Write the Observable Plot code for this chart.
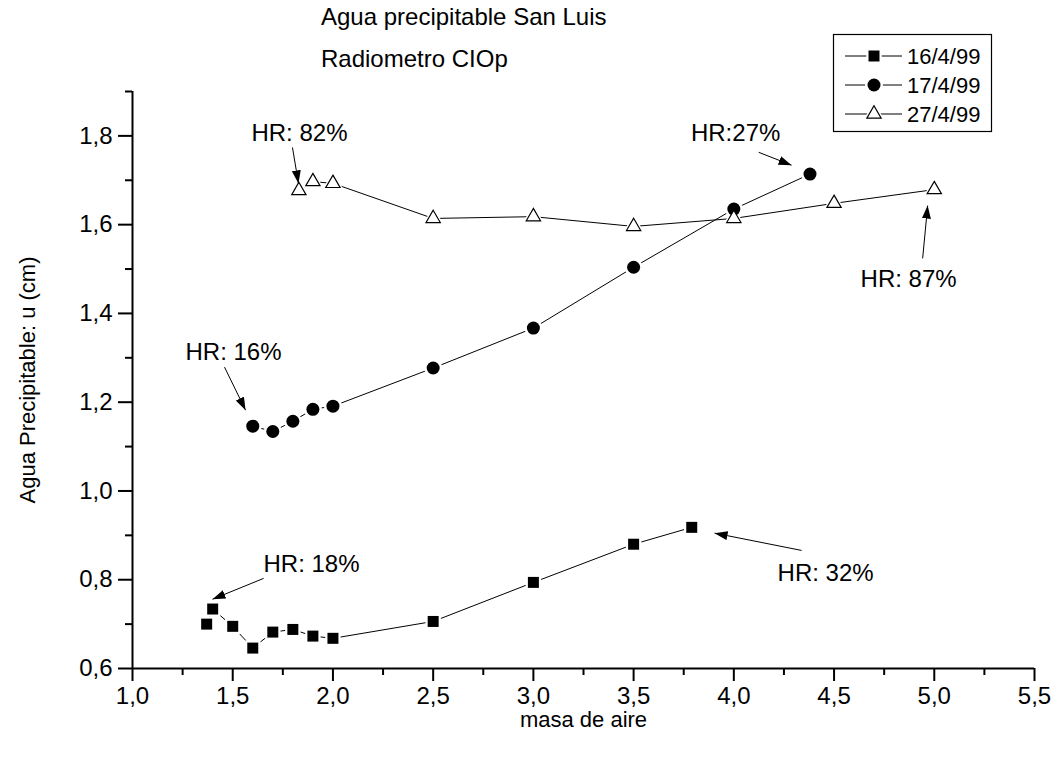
<!DOCTYPE html>
<html><head><meta charset="utf-8">
<script src="https://cdn.jsdelivr.net/npm/d3@7"></script>
<script src="https://cdn.jsdelivr.net/npm/@observablehq/plot@0.6"></script>
<style>
body{margin:0;background:#fff;}
#wrap{position:relative;width:1057px;height:757px;overflow:hidden;}
.ttl{position:absolute;left:321px;font:24px "Liberation Sans",Arial,sans-serif;color:#000;white-space:nowrap;line-height:24px;}
</style></head>
<body><div id="wrap"><div id="chart"></div>
<div class="ttl" style="top:5px">Agua precipitable San Luis</div>
<div class="ttl" style="top:47px">Radiometro CIOp</div>
</div>
<script>
// ---- data ----
const series = ["16/4/99", "17/4/99", "27/4/99"];
const masa16 = [1.37, 1.40, 1.50, 1.60, 1.70, 1.80, 1.90, 2.00, 2.50, 3.00, 3.50, 3.79];
const agua16 = [0.700, 0.734, 0.695, 0.646, 0.682, 0.688, 0.673, 0.668, 0.706, 0.794, 0.880, 0.918];
const masa17 = [1.60, 1.70, 1.80, 1.90, 2.00, 2.50, 3.00, 3.50, 4.00, 4.38];
const agua17 = [1.146, 1.134, 1.157, 1.184, 1.191, 1.277, 1.367, 1.504, 1.635, 1.714];
const masa27 = [1.83, 1.90, 2.00, 2.50, 3.00, 3.50, 4.00, 4.50, 5.00];
const agua27 = [1.677, 1.697, 1.693, 1.614, 1.618, 1.596, 1.614, 1.648, 1.679];
const xTicksMajor = [1.0, 1.5, 2.0, 2.5, 3.0, 3.5, 4.0, 4.5, 5.0, 5.5];
const xTicksMinor = [1.25, 1.75, 2.25, 2.75, 3.25, 3.75, 4.25, 4.75, 5.25];
const yTicksMajor = [0.6, 0.8, 1.0, 1.2, 1.4, 1.6, 1.8];
const yTicksMinor = [0.7, 0.9, 1.1, 1.3, 1.5, 1.7, 1.9];
// annotations (data coordinates)
const notaTexto = ["HR: 82%", "HR:27%", "HR: 87%", "HR: 16%", "HR: 18%", "HR: 32%"];
const notaX = [1.833, 4.009, 4.872, 1.504, 1.893, 4.458];
const notaY = [1.806, 1.806, 1.477, 1.313, 0.834, 0.814];
const flechaX1 = [1.798, 4.124, 4.942, 1.459, 1.654, 4.338];
const flechaY1 = [1.774, 1.763, 1.524, 1.279, 0.803, 0.866];
const flechaX2 = [1.828, 4.288, 4.967, 1.564, 1.399, 3.904];
const flechaY2 = [1.693, 1.734, 1.643, 1.182, 0.756, 0.905];

const symbols = ["square", "circle", "triangle"];
const rows = [];
[[masa16, agua16], [masa17, agua17], [masa27, agua27]].forEach(([xs, ys], i) => {
  xs.forEach((x, j) => rows.push({serie: series[i], x, y: ys[j]}));
});
const notas = notaTexto.map((t, i) => ({t, x: notaX[i], y: notaY[i]}));
const flechas = notaTexto.map((t, i) => ({x1: flechaX1[i], y1: flechaY1[i], x2: flechaX2[i], y2: flechaY2[i]}));
const fmt = d => d.toFixed(1).replace(".", ",");
const FONT = '"Liberation Sans", Arial, sans-serif';
const bySerie = s => rows.filter(d => d.serie === s);
const R = {square: 6.2, circle: 6.5, triangle: 5.3};

const marks = [
  Plot.axisX(xTicksMajor, {tickSize: 13, text: null, tickFormat: () => "", strokeWidth: 2, label: null}),
  Plot.axisX(xTicksMinor, {tickSize: 7, text: null, tickFormat: () => "", strokeWidth: 2, label: null}),
  Plot.axisY(yTicksMajor, {tickSize: 14, text: null, tickFormat: () => "", strokeWidth: 2, label: null}),
  Plot.axisY(yTicksMinor, {tickSize: 7, text: null, tickFormat: () => "", strokeWidth: 2, label: null}),
  Plot.text(xTicksMajor, {x: d => d, frameAnchor: "bottom", dy: 28, lineAnchor: "middle", textAnchor: "middle", text: fmt, fontSize: 24}),
  Plot.text(yTicksMajor, {y: d => d, frameAnchor: "left", dx: -20, lineAnchor: "middle", textAnchor: "end", text: fmt, fontSize: 24}),
  Plot.text(["masa de aire"], {frameAnchor: "bottom", dy: 51, lineAnchor: "middle", textAnchor: "middle", text: d => d, fontSize: 22}),
  Plot.text(["Agua Precipitable: u (cm)"], {frameAnchor: "left", dx: -105, rotate: -90, lineAnchor: "middle", textAnchor: "middle", text: d => d, fontSize: 22}),
  Plot.ruleX([1], {strokeWidth: 2}),
  Plot.ruleY([0.6], {strokeWidth: 2}),
  Plot.line(rows, {x: "x", y: "y", z: "serie", stroke: "black", strokeWidth: 1})
];
series.forEach((s, i) => {
  const sym = symbols[i];
  marks.push(Plot.dot(bySerie(s), {x: "x", y: "y", symbol: sym, r: R[sym] + 2.5, fill: "white", stroke: "none"}));
});
series.forEach((s, i) => {
  const sym = symbols[i];
  if (sym === "triangle")
    marks.push(Plot.dot(bySerie(s), {x: "x", y: "y", symbol: sym, r: R[sym], fill: "white", stroke: "black", strokeWidth: 1.2}));
  else
    marks.push(Plot.dot(bySerie(s), {x: "x", y: "y", symbol: sym, r: R[sym], fill: "black", stroke: "none"}));
});
marks.push(Plot.link(flechas, {x1: "x1", y1: "y1", x2: "x2", y2: "y2", stroke: "black", strokeWidth: 1}));
marks.push(Plot.text(notas, {x: "x", y: "y", text: "t", fontSize: 24, fill: "black", textAnchor: "middle", lineAnchor: "middle"}));

const plot = Plot.plot({
  width: 1057, height: 757,
  marginLeft: 132, marginRight: 23, marginTop: 91, marginBottom: 89,
  style: {fontFamily: FONT, fontSize: "20px", color: "black", background: "white"},
  x: {domain: [1, 5.5], axis: null},
  y: {domain: [0.6, 1.9], axis: null},
  marks
});
document.getElementById("chart").appendChild(plot);

// filled arrowheads on the annotation links
const svg = d3.select(plot);
const defs = svg.append("defs");
defs.append("marker").attr("id", "ah").attr("viewBox", "0 0 13 9").attr("refX", 13).attr("refY", 4.5)
  .attr("markerWidth", 13).attr("markerHeight", 9).attr("markerUnits", "userSpaceOnUse").attr("orient", "auto")
  .append("path").attr("d", "M0,0L13,4.5L0,9Z").attr("fill", "black");
svg.selectAll('g[aria-label="link"] path').attr("marker-end", "url(#ah)");

// legend
const lg = svg.append("g").attr("font-family", FONT).attr("font-size", 22).attr("text-anchor", "start");
lg.append("rect").attr("x", 833.5).attr("y", 34.5).attr("width", 158).attr("height", 97)
  .attr("fill", "white").attr("stroke", "black").attr("stroke-width", 1.2);
series.forEach((s, i) => {
  const cy = 56 + i * 29;
  lg.append("line").attr("x1", 845).attr("x2", 902).attr("y1", cy).attr("y2", cy).attr("stroke", "black");
  const sym = symbols[i];
  const type = {square: d3.symbolSquare, circle: d3.symbolCircle, triangle: d3.symbolTriangle}[sym];
  const r = R[sym];
  lg.append("path").attr("transform", `translate(874,${cy})`)
    .attr("d", d3.symbol(type, Math.PI * (r + 2.5) * (r + 2.5))()).attr("fill", "white");
  lg.append("path").attr("transform", `translate(874,${cy})`)
    .attr("d", d3.symbol(type, Math.PI * r * r)())
    .attr("fill", sym === "triangle" ? "white" : "black")
    .attr("stroke", sym === "triangle" ? "black" : "none").attr("stroke-width", 1.2);
  lg.append("text").attr("x", 907).attr("y", cy).attr("dy", "0.35em").attr("text-anchor", "start").text(s);
});
</script>
</body></html>
